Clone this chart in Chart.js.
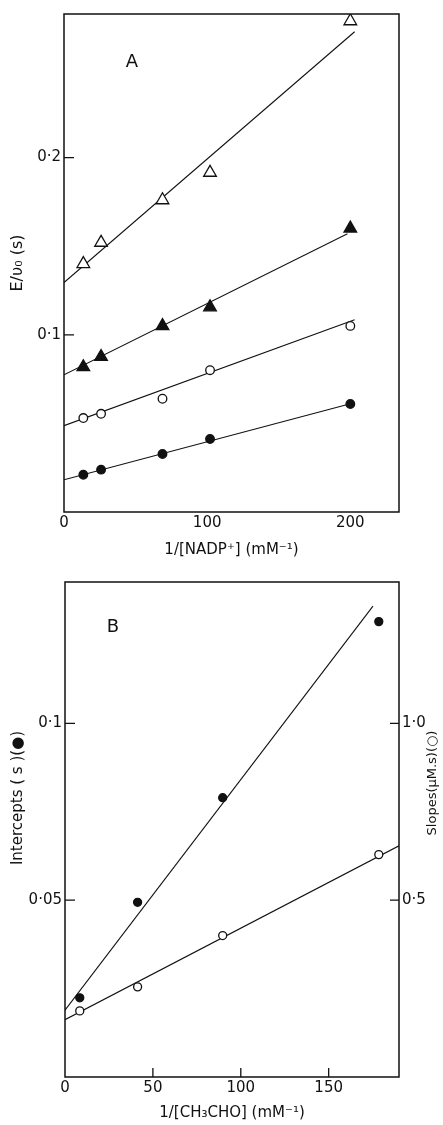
<!DOCTYPE html>
<html>
<head>
<meta charset="utf-8">
<script src="https://cdn.jsdelivr.net/npm/chart.js@4.4.1/dist/chart.umd.min.js"></script>
<style>
  html, body { margin: 0; padding: 0; background: #fff; }
  body { width: 443px; height: 1125px; position: relative; overflow: hidden; }
  canvas { position: absolute; left: 0; }
  #chartA { top: 0; }
  #chartB { top: 565px; }
</style>
</head>
<body>
<canvas id="chartA" width="443" height="565"></canvas>
<canvas id="chartB" width="443" height="560"></canvas>
<script>
// Panel A: E/v0 against 1/[NADP+], four series
const nadpInv = [13.5, 25.9, 68.8, 102, 200];
const triOpen = [0.140, 0.152, 0.176, 0.1915, 0.277];
const triFilled = [0.0818, 0.0876, 0.105, 0.1156, 0.160];
const circOpenA = [0.053, 0.0554, 0.0639, 0.080, 0.105];
const circFilledA = [0.021, 0.0239, 0.0327, 0.0412, 0.0609];

// fitted lines of panel A (start at x = 0), same order as above
const fitStartA = [0.1295, 0.0774, 0.0487, 0.0182];
const fitEndXA = [203, 198, 203, 202];
const fitEndYA = [0.271, 0.157, 0.1085, 0.0615];

const xTicksA = [0, 100, 200];
const xLabelsA = ['0', '100', '200'];
const yTicksA = [0.1, 0.2];
const yLabelsA = ['0·1', '0·2'];

// Panel B: secondary plot against 1/[CH3CHO]
const acetInv = [8.4, 41.3, 89.7, 178.5];
const intercepts = [0.0224, 0.0494, 0.079, 0.1288];
const slopes = [0.187, 0.255, 0.40, 0.629];

const fitInterceptX = [0, 175.2];
const fitInterceptY = [0.0189, 0.1332];
const fitSlopeX = [0, 190];
const fitSlopeY = [0.162, 0.654];

const xTicksB = [0, 50, 100, 150];
const xLabelsB = ['0', '50', '100', '150'];
const yTicksB = [0.05, 0.1];
const yLabelsB = ['0·05', '0·1'];
const y2TicksB = [0.5, 1.0];
const y2LabelsB = ['0·5', '1·0'];

const INK = '#111';
Chart.defaults.font.family = '"DejaVu Sans", sans-serif';
Chart.defaults.color = INK;

const pts = (xs, ys) => xs.map((x, i) => ({ x, y: ys[i] }));

function marker(xs, ys, style, fill, r, axis) {
  return {
    data: pts(xs, ys), pointStyle: style, pointRadius: r,
    pointBackgroundColor: fill, pointBorderColor: INK, pointBorderWidth: 1.3,
    showLine: false, yAxisID: axis || 'y'
  };
}

function fit(xs, ys, axis) {
  return {
    data: pts(xs, ys), showLine: true, pointRadius: 0,
    borderColor: INK, borderWidth: 1.1, fill: false, yAxisID: axis || 'y'
  };
}

// axis with fixed tick values, hidden grid, size forced by afterFit
function axis(values, labels, size, pad, extra) {
  return Object.assign({
    type: 'linear',
    grid: { display: false, drawTicks: false },
    border: { display: false },
    afterBuildTicks: s => { s.ticks = values.map(v => ({ value: v })); },
    afterFit: s => { if (s.isHorizontal()) s.height = size; else s.width = size; },
    ticks: { callback: (v, i) => labels[i], font: { size: 15 }, color: INK, maxRotation: 0, autoSkip: false, padding: pad }
  }, extra);
}

// frame box, inward tick marks and free text (panel letters, side titles)
function frame(marks, texts) {
  return {
    id: 'frame',
    afterDatasetsDraw(chart) {
      const { ctx, chartArea: a } = chart;
      ctx.save();
      ctx.strokeStyle = INK;
      ctx.lineWidth = 1.5;
      ctx.strokeRect(a.left, a.top, a.right - a.left, a.bottom - a.top);
      ctx.lineWidth = 1.3;
      ctx.beginPath();
      Object.keys(marks).forEach(id => {
        const s = chart.scales[id], len = marks[id];
        s.ticks.forEach(t => {
          if (t.value === 0) return;
          const p = s.getPixelForValue(t.value);
          if (s.axis === 'x') { ctx.moveTo(p, a.bottom); ctx.lineTo(p, a.bottom - len); }
          else if (s.position === 'left') { ctx.moveTo(a.left, p); ctx.lineTo(a.left + len, p); }
          else { ctx.moveTo(a.right, p); ctx.lineTo(a.right - len, p); }
        });
      });
      ctx.stroke();
      ctx.fillStyle = INK;
      ctx.textAlign = 'center';
      ctx.textBaseline = 'middle';
      texts.forEach(t => {
        ctx.save();
        ctx.translate(t.x, t.y);
        ctx.rotate(t.rotate || 0);
        ctx.font = t.font;
        ctx.fillText(t.text, 0, 0);
        ctx.restore();
      });
      ctx.restore();
    }
  };
}

const common = {
  responsive: false,
  animation: false,
  events: [],
  plugins: { legend: { display: false }, tooltip: { enabled: false } }
};

const fitsA = fitStartA.map((y0, i) => fit([0, fitEndXA[i]], [y0, fitEndYA[i]]));

new Chart(document.getElementById('chartA'), {
  type: 'scatter',
  data: {
    datasets: [
      marker(nadpInv, triOpen, 'triangle', '#fff', 7.3),
      marker(nadpInv, triFilled, 'triangle', INK, 7.3),
      marker(nadpInv, circOpenA, 'circle', '#fff', 4.3),
      marker(nadpInv, circFilledA, 'circle', INK, 4.3),
      ...fitsA
    ]
  },
  options: Object.assign({}, common, {
    layout: { padding: { top: 14, right: 44, left: 0, bottom: 0 } },
    scales: {
      x: axis(xTicksA, xLabelsA, 53, 2, {
        min: 0, max: 234,
        title: { display: true, text: '1/[NADP⁺] (mM⁻¹)', font: { size: 15 }, color: INK, padding: { top: 0, bottom: 6 } }
      }),
      y: axis(yTicksA, yLabelsA, 64, 3, {
        min: 0, max: 0.281,
        title: { display: true, text: 'E/υ₀ (s)', font: { size: 16 }, color: INK, padding: { top: 8, bottom: 0 } }
      })
    }
  }),
  plugins: [frame({ y: 10 }, [
    { text: 'A', x: 132, y: 62, font: '18px "DejaVu Sans"' }
  ])]
});

new Chart(document.getElementById('chartB'), {
  type: 'scatter',
  data: {
    datasets: [
      marker(acetInv, intercepts, 'circle', INK, 4),
      marker(acetInv, slopes, 'circle', '#fff', 4, 'y2'),
      fit(fitInterceptX, fitInterceptY),
      fit(fitSlopeX, fitSlopeY, 'y2')
    ]
  },
  options: Object.assign({}, common, {
    layout: { padding: { top: 17, right: 0, left: 0, bottom: 0 } },
    scales: {
      x: axis(xTicksB, xLabelsB, 48, 2, {
        min: 0, max: 190,
        title: { display: true, text: '1/[CH₃CHO] (mM⁻¹)', font: { size: 15 }, color: INK, padding: { top: 0, bottom: 3 } }
      }),
      y: axis(yTicksB, yLabelsB, 65, 3, { position: 'left', min: 0, max: 0.14 }),
      y2: axis(y2TicksB, y2LabelsB, 44, 3, { position: 'right', min: 0, max: 1.4 })
    }
  }),
  plugins: [frame({ x: 9, y: 10, y2: 9 }, [
    { text: 'B', x: 113, y: 62, font: '18px "DejaVu Sans"' },
    { text: 'Intercepts ( s )(●)', x: 18, y: 233, rotate: -Math.PI / 2, font: '15px "DejaVu Sans"' },
    { text: 'Slopes(μM.s)(○)', x: 433, y: 218, rotate: -Math.PI / 2, font: '13px "DejaVu Sans"' }
  ])]
});
</script>
</body>
</html>
